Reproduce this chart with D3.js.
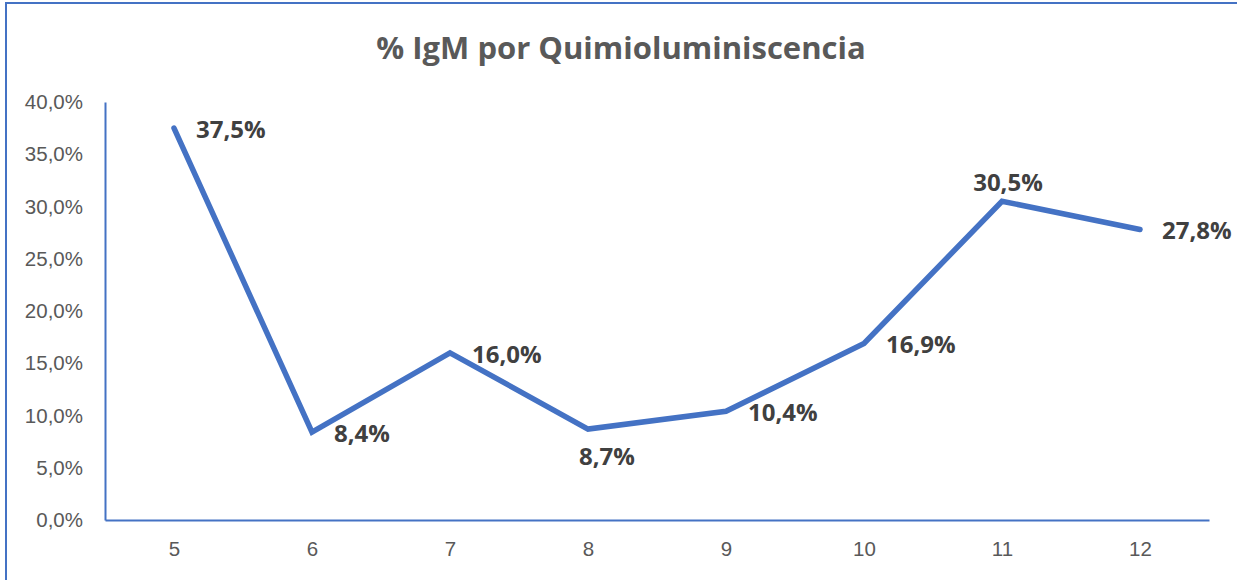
<!DOCTYPE html>
<html>
<head>
<meta charset="utf-8">
<script src="https://cdn.jsdelivr.net/npm/d3@7/dist/d3.min.js"></script>
<style>
  body { margin: 0; background: #fff; }
  svg { display: block; font-family: "Open Sans", "Noto Sans", sans-serif; }
</style>
</head>
<body>
<main></main>
<script>
"use strict";

// chart data
const months = ["5", "6", "7", "8", "9", "10", "11", "12"];
const igmPct = [37.5, 8.4, 16.0, 8.7, 10.4, 16.9, 30.5, 27.8];
const labelPos = ["right", "right", "right", "below", "right", "right", "above", "right"];
const yTicks = [0, 5, 10, 15, 20, 25, 30, 35, 40];
const title = "% IgM por Quimioluminiscencia";

const w = 1237;
const h = 580;
const margin = { top: 102, bottom: 60, left: 105, right: 28 };
const blue = "#4472C4";

const svg = d3.select("main").append("svg").attr("width", w).attr("height", h);

// chart frame (runs off right / bottom like the screenshot)
svg.append("rect")
  .attr("x", 6).attr("y", 3)
  .attr("width", w + 20).attr("height", h + 20)
  .attr("fill", "none").attr("stroke", blue).attr("stroke-width", 2);

svg.append("text")
  .attr("x", 621).attr("y", 59)
  .attr("text-anchor", "middle")
  .attr("font-size", 31).attr("font-weight", 700)
  .attr("fill", "#595959")
  .text(title);

const x = d3.scalePoint().domain(months).range([margin.left, w - margin.right]).padding(0.5);
const y = d3.scaleLinear().domain([0, 40]).range([h - margin.bottom, margin.top]);

const fmt = (v) => v.toFixed(1).replace(".", ",") + "%";

// y axis
const yAxis = d3.axisLeft(y).tickValues(yTicks).tickFormat(fmt).tickSize(0).tickPadding(22);
svg.append("g")
  .attr("transform", `translate(${margin.left},0)`)
  .call(yAxis)
  .call((g) => g.select(".domain").attr("stroke", blue).attr("stroke-width", 2))
  .call((g) => g.selectAll("text").attr("fill", "#595959").attr("font-size", 20.5).attr("font-family", null));

// x axis
const xAxis = d3.axisBottom(x).tickSize(0).tickPadding(21);
svg.append("g")
  .attr("transform", `translate(0,${h - margin.bottom})`)
  .call(xAxis)
  .call((g) => g.select(".domain").attr("stroke", blue).attr("stroke-width", 2))
  .call((g) => g.selectAll("text").attr("fill", "#595959").attr("font-size", 20.5).attr("font-family", null));

// line
const line = d3.line().x((d, i) => x(months[i])).y((d) => y(d));
svg.append("path")
  .datum(igmPct)
  .attr("d", line)
  .attr("fill", "none")
  .attr("stroke", blue)
  .attr("stroke-width", 5.5)
  .attr("stroke-linejoin", "miter")
  .attr("stroke-linecap", "round");

// data labels
const offsets = {
  right: { dx: 22, dy: 10, anchor: "start" },
  below: { dx: 19, dy: 36, anchor: "middle" },
  above: { dx: 6, dy: -10, anchor: "middle" }
};

svg.append("g")
  .selectAll("text")
  .data(igmPct)
  .join("text")
  .attr("x", (d, i) => x(months[i]) + offsets[labelPos[i]].dx)
  .attr("y", (d, i) => y(d) + offsets[labelPos[i]].dy)
  .attr("text-anchor", (d, i) => offsets[labelPos[i]].anchor)
  .attr("font-size", 24).attr("font-weight", 700)
  .attr("fill", "#404040")
  .text(fmt);
</script>
</body>
</html>
